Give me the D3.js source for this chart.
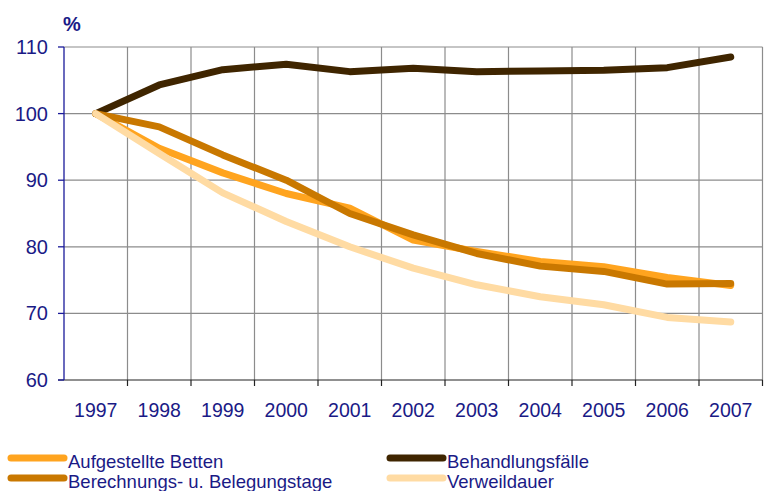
<!DOCTYPE html>
<html lang="de">
<head>
<meta charset="UTF-8">
<title>Krankenhaus Indexwerte 1997-2007</title>
<script src="https://d3js.org/d3.v7.min.js"></script>
<style>
  body { margin: 0; background: #fff; }
  text { font-family: "Liberation Sans", Arial, sans-serif; fill: #1a1a86; }
</style>
</head>
<body>
<script>
// data (1997 = 100)
var years = ["1997","1998","1999","2000","2001","2002","2003","2004","2005","2006","2007"];
var betten       = [100, 94.8, 91.1, 88.0, 85.8, 81.0, 79.3, 77.8, 77.0, 75.4, 74.2];
var faelle       = [100, 104.3, 106.6, 107.4, 106.3, 106.8, 106.3, 106.4, 106.5, 106.9, 108.5];
var belegung     = [100, 98.0, 93.8, 90.0, 85.0, 81.8, 79.0, 77.1, 76.3, 74.4, 74.5];
var verweildauer = [100, 94.0, 88.1, 83.8, 80.0, 76.8, 74.3, 72.5, 71.3, 69.4, 68.7];
var yTicks = [60, 70, 80, 90, 100, 110];

// series in drawing order (later ones on top)
var series = [
  {name: "Aufgestellte Betten", values: betten, color: "#ffa41f"},
  {name: "Behandlungsfälle", values: faelle, color: "#3f2500"},
  {name: "Berechnungs- u. Belegungstage", values: belegung, color: "#c97800"},
  {name: "Verweildauer", values: verweildauer, color: "#ffdba3"}
];
// legend layout: two columns, two rows
var legendOrder = [0, 2, 1, 3];

var W = 767, H = 491;
var plotL = 64, plotR = 762.5, plotT = 47, plotB = 380;

var svg = d3.select("body").append("svg")
    .attr("width", W)
    .attr("height", H);

var x = d3.scaleBand().domain(years).range([plotL, plotR]).padding(0);
var y = d3.scaleLinear().domain([60, 110]).range([plotB, plotT]);

// horizontal grid
svg.append("g")
  .selectAll("line")
  .data(yTicks.slice(1))
  .enter().append("line")
    .attr("x1", plotL).attr("x2", plotR)
    .attr("y1", function(d){ return y(d); })
    .attr("y2", function(d){ return y(d); })
    .attr("stroke", "#8c8c8c")
    .attr("stroke-width", 1.2);

// vertical grid at band borders
svg.append("g")
  .selectAll("line")
  .data(years)
  .enter().append("line")
    .attr("x1", function(d){ return x(d) + x.bandwidth(); })
    .attr("x2", function(d){ return x(d) + x.bandwidth(); })
    .attr("y1", plotT).attr("y2", plotB)
    .attr("stroke", "#8c8c8c")
    .attr("stroke-width", 1.2);

// x axis: black line, ticks at band borders
svg.append("line")
  .attr("x1", plotL - 6).attr("x2", plotR)
  .attr("y1", plotB).attr("y2", plotB)
  .attr("stroke", "#222").attr("stroke-width", 1.2);

svg.append("g")
  .selectAll("line")
  .data(years)
  .enter().append("line")
    .attr("x1", function(d){ return x(d) + x.bandwidth(); })
    .attr("x2", function(d){ return x(d) + x.bandwidth(); })
    .attr("y1", plotB).attr("y2", plotB + 6)
    .attr("stroke", "#222").attr("stroke-width", 1.2);

svg.append("g")
  .selectAll("text")
  .data(years)
  .enter().append("text")
    .attr("x", function(d){ return x(d) + x.bandwidth() / 2; })
    .attr("y", plotB + 37)
    .attr("text-anchor", "middle")
    .style("font-size", "19.5px")
    .text(function(d){ return d; });

// y axis: blue line with ticks to the left
svg.append("line")
  .attr("x1", plotL).attr("x2", plotL)
  .attr("y1", plotT).attr("y2", plotB)
  .attr("stroke", "#1a1a9a").attr("stroke-width", 1.3);

svg.append("g")
  .selectAll("line")
  .data(yTicks)
  .enter().append("line")
    .attr("x1", plotL - 6).attr("x2", plotL)
    .attr("y1", function(d){ return y(d); })
    .attr("y2", function(d){ return y(d); })
    .attr("stroke", "#1a1a9a").attr("stroke-width", 1.3);

svg.append("g")
  .selectAll("text")
  .data(yTicks)
  .enter().append("text")
    .attr("x", 48)
    .attr("y", function(d){ return y(d) + 7; })
    .attr("text-anchor", "end")
    .style("font-size", "20px")
    .text(function(d){ return d; });

svg.append("text")
  .attr("x", 63).attr("y", 31)
  .style("font-size", "20px")
  .style("font-weight", "bold")
  .text("%");

// lines
var line = d3.line()
  .x(function(d, i){ return x(years[i]) + x.bandwidth() / 2; })
  .y(function(d){ return y(d); });

svg.append("g")
  .selectAll("path")
  .data(series)
  .enter().append("path")
    .attr("d", function(s){ return line(s.values); })
    .attr("fill", "none")
    .attr("stroke", function(s){ return s.color; })
    .attr("stroke-width", 7)
    .attr("stroke-linejoin", "round")
    .attr("stroke-linecap", "round");

// legend
var leg = svg.append("g")
  .selectAll("g")
  .data(legendOrder)
  .enter().append("g")
    .attr("transform", function(d, i){
      var col = Math.floor(i / 2), row = i % 2;
      return "translate(" + (col === 0 ? 11 : 390) + "," + (458 + row * 20) + ")";
    });

leg.append("line")
  .attr("x1", 0).attr("x2", 53)
  .attr("y1", 0).attr("y2", 0)
  .attr("stroke", function(d){ return series[d].color; })
  .attr("stroke-width", 7)
  .attr("stroke-linecap", "round");

leg.append("text")
  .attr("x", 57).attr("y", 10)
  .style("font-size", "18.5px")
  .text(function(d){ return series[d].name; });
</script>
</body>
</html>
